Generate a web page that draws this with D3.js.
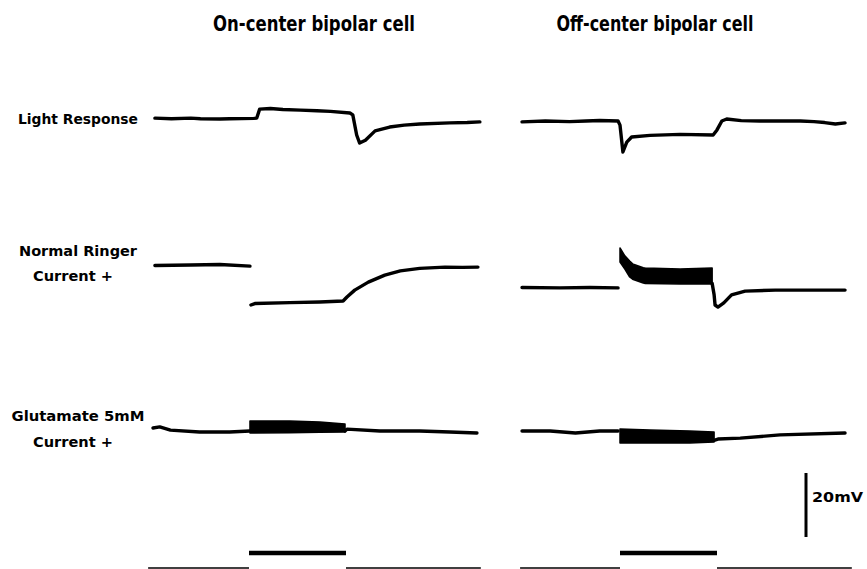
<!DOCTYPE html>
<html>
<head>
<meta charset="utf-8">
<script src="https://cdn.jsdelivr.net/npm/d3@7"></script>
<style>
  body { margin: 0; background: #fff; }
  svg { display: block; }
  .trace { fill: none; stroke: #000; stroke-width: 3.4; stroke-linejoin: round; stroke-linecap: round; }
  .band { fill: #000; stroke: #000; stroke-width: 1.5; stroke-linejoin: round; }
  .label { font-family: "DejaVu Sans", sans-serif; font-weight: bold; font-size: 14px; }
  .title { font-family: "Liberation Sans Narrow", "DejaVu Sans Condensed", sans-serif; font-weight: bold; font-size: 22px; }
</style>
</head>
<body>
<svg id="chart" width="867" height="569"></svg>
<script>
// titles and row labels
const cellTitles = ['On-center bipolar cell', 'Off-center bipolar cell'];
const rowLabels = [['Light Response'], ['Normal Ringer', 'Current +'], ['Glutamate 5mM', 'Current +']];

// time in s (light on at 0, off at 1), voltage in mV relative to row level
const stimulus = [0, 1];
const recordSpan = [[-1.04, 2.39], [-1.03, 2.39]];
const scaleBarMV = 20;

// row 1: light response
const onLight = [
  [-0.97, 0.6], [-0.8, 0.4], [-0.6, 0.6], [-0.5, 0.4], [-0.3, 0.3], [-0.2, 0.4], [0.05, 0.5], [0.08, 0.6],
  [0.11, 3.4], [0.22, 3.6], [0.35, 3.3], [0.53, 3.1], [0.7, 2.9], [0.84, 2.7], [1.04, 2.2], [1.07, 1.6],
  [1.11, -4.7], [1.14, -7.2], [1.2, -6.3], [1.3, -3.4], [1.45, -2.2], [1.6, -1.6], [1.76, -1.25],
  [2.07, -0.9], [2.25, -0.8], [2.38, -0.6]
];
const offLight = [
  [-1.01, -0.6], [-0.77, -0.3], [-0.52, -0.5], [-0.35, -0.3], [-0.21, -0.15], [-0.02, -0.3],
  [0.0, -1.6], [0.03, -10], [0.07, -6.9], [0.12, -5.3], [0.31, -4.8], [0.62, -4.5], [0.96, -4.7],
  [1.0, -3.1], [1.05, -0.3], [1.1, 0.3], [1.25, -0.2], [1.44, -0.3], [1.86, -0.3], [2.0, -0.5],
  [2.11, -0.8], [2.22, -1.25], [2.32, -0.9]
];

// row 2: normal ringer, current injected during light
const onRingerPre = [[-0.97, 6.1], [-0.6, 6.25], [-0.3, 6.4], [0.01, 5.9]];
const onRingerPost = [
  [0.02, -6.25], [0.06, -5.8], [0.42, -5.5], [0.73, -5.3], [0.97, -5.0], [1.01, -3.75], [1.09, -1.6],
  [1.23, 0.9], [1.4, 3.1], [1.56, 4.4], [1.76, 5.2], [2.02, 5.6], [2.2, 5.5], [2.36, 5.6]
];
const offRingerPre = [[-1.01, -0.8], [-0.62, -0.9], [-0.31, -0.8], [-0.02, -0.9]];
const offRingerBand = [ // [t, low, high]
  [0.0, 7.2, 11.6], [0.05, 5.0, 9.1], [0.1, 2.5, 7.5], [0.13, 1.8, 6.6], [0.24, 0.6, 5.4],
  [0.26, 0.5, 5.3], [0.62, 0.3, 5.0], [0.95, 0.3, 5.3]
];
const offRingerPost = [
  [0.95, 0.5], [0.97, -3.0], [0.98, -6.25], [1.01, -6.9], [1.07, -5.6], [1.15, -3.1], [1.29, -1.9],
  [1.6, -1.6], [1.96, -1.6], [2.32, -1.6]
];

// row 3: glutamate 5mM, current injected during light
const onGluPre = [[-0.99, 1.25], [-0.92, 1.6], [-0.81, 0.6], [-0.51, 0.0], [-0.2, 0.0], [0.01, 0.3]];
const onGluBand = [[0.01, -0.3, 3.4], [0.42, -0.2, 3.4], [0.73, -0.1, 3.1], [0.99, 0.0, 2.5]];
const onGluPost = [[0.99, 0.3], [1.01, 0.9], [1.35, 0.3], [1.76, 0.3], [2.07, 0.0], [2.35, -0.3]];
const offGluPre = [[-1.01, 0.3], [-0.72, 0.3], [-0.46, -0.3], [-0.21, 0.3], [-0.02, 0.3]];
const offGluBand = [[0.0, -3.4, 0.9], [0.31, -3.4, 0.6], [0.72, -3.4, 0.3], [0.97, -3.1, 0.0]];
const offGluPost = [[0.97, -2.6], [1.01, -2.2], [1.24, -1.9], [1.65, -0.9], [2.32, -0.3]];

const panelTraces = [
  [[onLight], [onRingerPre, onRingerPost], [onGluPre, onGluPost]],
  [[offLight], [offRingerPre, offRingerPost], [offGluPre, offGluPost]]
];
const panelBands = [
  [[], [], [onGluBand]],
  [[], [offRingerBand], [offGluBand]]
];

// layout
const svg = d3.select('#chart');
const pxPerSec = 97;
const onsetX = [249, 620];
const titleX = [314, 655];
const rowY = [120, 285, 432];
const pxPerMV = 3.2;

const xScales = onsetX.map(x0 => d3.scaleLinear().domain([0, 1]).range([x0, x0 + pxPerSec]));
const yScales = rowY.map(y0 => d3.scaleLinear().domain([0, 10]).range([y0, y0 - 10 * pxPerMV]));

// titles
svg.selectAll('.title').data(cellTitles)
  .enter().append('text')
    .attr('class', 'title')
    .attr('x', (d, i) => titleX[i])
    .attr('y', 31)
    .attr('text-anchor', 'middle')
    .attr('textLength', (d, i) => i === 0 ? 202 : 197)
    .attr('lengthAdjust', 'spacingAndGlyphs')
    .text(d => d);

// row labels
const labelLen = { 'Light Response': 120, 'Normal Ringer': 118, 'Current +': 80, 'Glutamate 5mM': 133 };
const labelYs = [[124], [256, 281], [421, 447]];
rowLabels.forEach((lines, r) => {
  svg.selectAll(`.label-${r}`).data(lines)
    .enter().append('text')
      .attr('class', `label label-${r}`)
      .attr('x', (d, i) => i === 0 ? 78 : 73)
      .attr('y', (d, i) => labelYs[r][i])
      .attr('text-anchor', 'middle')
      .attr('textLength', d => labelLen[d])
      .attr('lengthAdjust', 'spacingAndGlyphs')
      .text(d => d);
});

// traces
panelTraces.forEach((rows, p) => {
  const x = xScales[p];
  rows.forEach((segs, r) => {
    const y = yScales[r];
    const line = d3.line().x(d => x(d[0])).y(d => y(d[1]));
    svg.append('g').selectAll('path').data(segs)
      .enter().append('path')
        .attr('class', 'trace')
        .attr('d', line);
  });
  panelBands[p].forEach((bands, r) => {
    const y = yScales[r];
    const area = d3.area().x(d => x(d[0])).y0(d => y(d[1])).y1(d => y(d[2]));
    svg.append('g').selectAll('path').data(bands)
      .enter().append('path')
        .attr('class', 'band')
        .attr('d', area);
  });
});

// light stimulus bar and record lines
xScales.forEach((x, p) => {
  svg.append('line')
    .attr('x1', x(stimulus[0])).attr('x2', x(stimulus[1]))
    .attr('y1', 553).attr('y2', 553)
    .attr('stroke', '#000').attr('stroke-width', 4.5);
  const [t0, t1] = recordSpan[p];
  svg.append('g').selectAll('line').data([[t0, stimulus[0]], [stimulus[1], t1]])
    .enter().append('line')
      .attr('x1', d => x(d[0])).attr('x2', d => x(d[1]))
      .attr('y1', 568).attr('y2', 568)
      .attr('stroke', '#000').attr('stroke-width', 1.5);
});

// 20 mV scale bar
const yBar = d3.scaleLinear().domain([0, 10]).range([537, 537 - 10 * pxPerMV]);
svg.append('line')
  .attr('x1', 806).attr('x2', 806)
  .attr('y1', yBar(0)).attr('y2', yBar(scaleBarMV))
  .attr('stroke', '#000').attr('stroke-width', 3);
svg.append('text')
  .attr('class', 'label')
  .attr('x', 812)
  .attr('y', 502)
  .attr('font-size', 16)
  .attr('textLength', 51)
  .attr('lengthAdjust', 'spacingAndGlyphs')
  .text(`${scaleBarMV}mV`);
</script>
</body>
</html>
